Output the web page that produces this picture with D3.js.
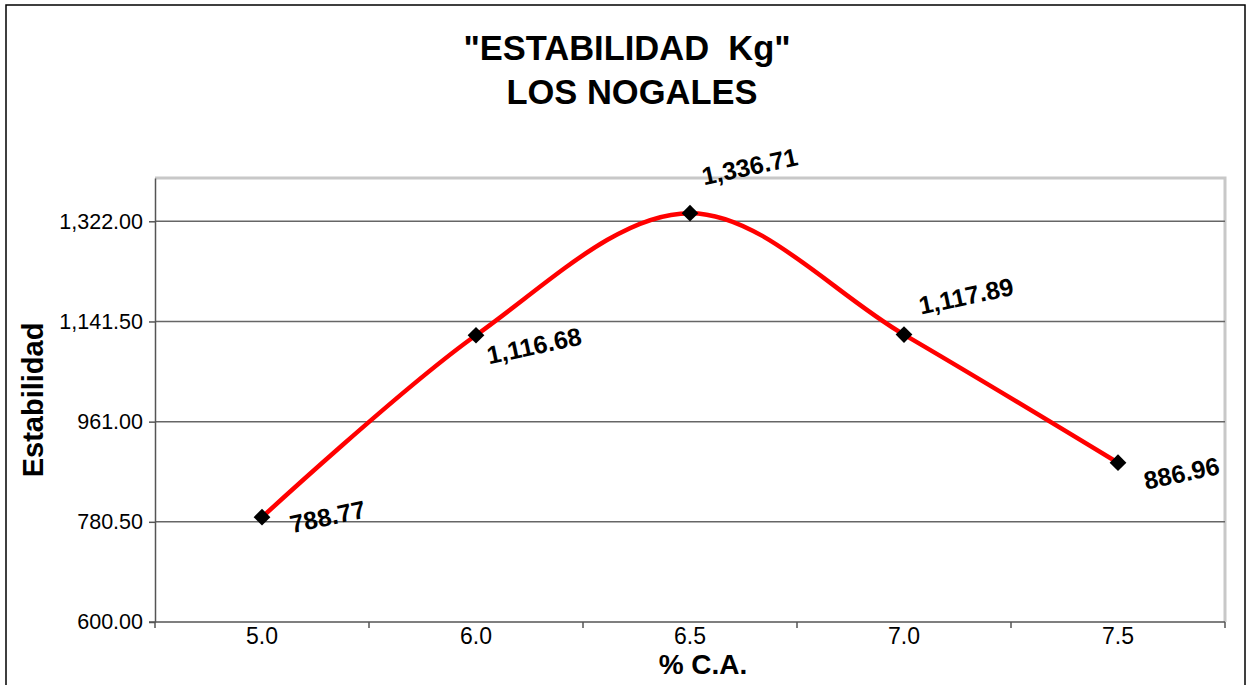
<!DOCTYPE html>
<html>
<head>
<meta charset="utf-8">
<script src="https://cdn.jsdelivr.net/npm/d3@7"></script>
<style>
  html, body { margin: 0; padding: 0; background: #fff; }
  svg { display: block; font-family: "Liberation Sans", Arial, sans-serif; }
</style>
</head>
<body>
<svg id="chart" width="1246" height="685"></svg>
<script>
// Asphalt content (% C.A.) vs. Marshall stability (kg)
const categories = ["5.0", "6.0", "6.5", "7.0", "7.5"];
const stability = [788.77, 1116.68, 1336.71, 1117.89, 886.96];
const yTicks = [600.00, 780.50, 961.00, 1141.50, 1322.00];
const yMax = 1400;
// label anchor offsets (left baseline) from each marker
const labelOffsets = [[30, 16], [13, 29], [14, -28], [17, -20], [28, 27]];

const svg = d3.select("#chart");
const plot = { left: 155, right: 1225, top: 178, bottom: 622 };

// outer frame
svg.append("rect")
  .attr("x", 6).attr("y", 5).attr("width", 1239).attr("height", 700)
  .attr("fill", "none").attr("stroke", "#000").attr("stroke-width", 1.5);

const x = d3.scaleBand().domain(categories).range([plot.left, plot.right]);
const y = d3.scaleLinear().domain([600, yMax]).range([plot.bottom, plot.top]);

// plot area border (light top/right)
svg.append("path")
  .attr("d", `M${plot.left},${plot.top}H${plot.right}V${plot.bottom}`)
  .attr("fill", "none").attr("stroke", "#c8c8c8").attr("stroke-width", 3);

// horizontal gridlines
svg.append("g").selectAll("line")
  .data(yTicks.slice(1))
  .join("line")
  .attr("x1", plot.left).attr("x2", plot.right)
  .attr("y1", d => y(d)).attr("y2", d => y(d))
  .attr("stroke", "#666").attr("stroke-width", 1.5);

// y axis
const yAxis = svg.append("g")
  .attr("transform", `translate(${plot.left},0)`)
  .call(d3.axisLeft(y).tickValues(yTicks).tickSizeInner(6).tickSizeOuter(0).tickPadding(6)
    .tickFormat(d3.format(",.2f")));
yAxis.select(".domain").attr("stroke", "#555").attr("stroke-width", 1.5);
yAxis.selectAll(".tick line").attr("stroke", "#555").attr("stroke-width", 1.5);
yAxis.selectAll("text").attr("font-size", 21.5).attr("fill", "#000")
  .attr("font-family", "Liberation Sans, Arial, sans-serif");

// x axis: ticks between categories
const xAxisG = svg.append("g").attr("transform", `translate(0,${plot.bottom})`);
xAxisG.append("line")
  .attr("x1", plot.left - 6).attr("x2", plot.right)
  .attr("stroke", "#555").attr("stroke-width", 1.5);
const boundaries = categories.map(c => x(c)).concat([plot.right]);
xAxisG.selectAll(".xtick").data(boundaries).join("line")
  .attr("class", "xtick")
  .attr("x1", d => d).attr("x2", d => d).attr("y1", 0).attr("y2", 6)
  .attr("stroke", "#555").attr("stroke-width", 1.5);
xAxisG.selectAll(".xlabel").data(categories).join("text")
  .attr("class", "xlabel")
  .attr("x", d => x(d) + x.bandwidth() / 2)
  .attr("y", 22)
  .attr("text-anchor", "middle")
  .attr("font-size", 23)
  .text(d => d);

// titles
const title = svg.append("text")
  .attr("text-anchor", "middle").attr("font-size", 34.5).attr("font-weight", "bold");
title.append("tspan").attr("x", 627).attr("y", 60).text('"ESTABILIDAD\u00a0\u00a0Kg"');
title.append("tspan").attr("x", 632).attr("y", 104).text("LOS NOGALES");

svg.append("text")
  .attr("x", 703).attr("y", 674)
  .attr("text-anchor", "middle").attr("font-size", 28).attr("font-weight", "bold")
  .text("% C.A.");

svg.append("text")
  .attr("transform", "translate(43,400) rotate(-90)")
  .attr("text-anchor", "middle").attr("font-size", 29).attr("font-weight", "bold")
  .text("Estabilidad");

// smoothed series line
const pts = categories.map((c, i) => [x(c) + x.bandwidth() / 2, y(stability[i])]);
svg.append("path")
  .attr("d", d3.line().curve(d3.curveCardinal.tension(0))(pts))
  .attr("fill", "none").attr("stroke", "#ff0000").attr("stroke-width", 4.5);

// diamond markers
svg.append("g").selectAll("path")
  .data(pts)
  .join("path")
  .attr("transform", d => `translate(${d[0]},${d[1]}) rotate(45)`)
  .attr("d", d3.symbol(d3.symbolSquare, 140))
  .attr("fill", "#000");

// data labels
svg.append("g").selectAll("text")
  .data(stability)
  .join("text")
  .attr("transform", (d, i) => {
    const [px, py] = pts[i];
    const [dx, dy] = labelOffsets[i];
    return `translate(${px + dx},${py + dy}) rotate(-12)`;
  })
  .attr("font-size", 25).attr("font-weight", "bold")
  .text(d => d3.format(",.2f")(d));
</script>
</body>
</html>
